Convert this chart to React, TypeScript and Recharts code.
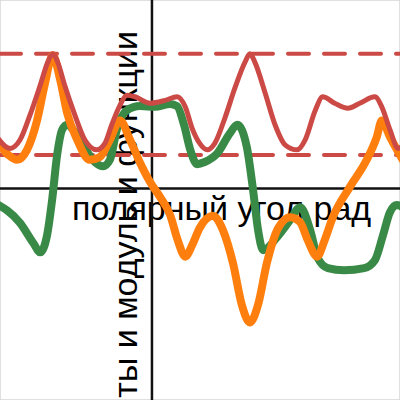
import { LineChart, Line, XAxis, YAxis, CartesianGrid, ReferenceLine } from 'recharts'

const redX = [-2.5, -2.26, -2.1, -1.94, -1.78, -1.66, -1.58, -1.5, -1.39, -1.23, -1.07, -0.88, -0.75, -0.64, -0.51, -0.4, -0.27, -0.03, 0.21, 0.4, 0.53, 0.64, 0.76, 0.88, 1.0, 1.16, 1.32, 1.48, 1.56, 1.64, 1.8, 1.96, 2.12, 2.31, 2.44, 2.6, 2.72, 2.91, 3.12, 3.31, 3.55, 3.66, 3.79, 3.92, 4.02]
const redY = [0.76, 0.56, 0.68, 1.03, 1.44, 1.76, 1.88, 1.76, 1.44, 1.03, 0.68, 0.54, 0.63, 0.89, 1.16, 1.3, 1.28, 1.19, 1.23, 1.28, 1.14, 0.84, 0.63, 0.54, 0.63, 0.98, 1.4, 1.76, 1.88, 1.76, 1.34, 0.89, 0.61, 0.54, 0.68, 1.09, 1.28, 1.19, 1.12, 1.19, 1.28, 1.14, 0.82, 0.56, 0.62]

const orangeX = [-2.5, -2.29, -2.15, -1.99, -1.83, -1.71, -1.58, -1.46, -1.35, -1.19, -0.99, -0.83, -0.67, -0.51, -0.35, -0.19, -0.03, 0.13, 0.29, 0.41, 0.53, 0.64, 0.76, 0.97, 1.13, 1.29, 1.43, 1.56, 1.69, 1.83, 2.01, 2.2, 2.36, 2.48, 2.63, 2.75, 2.88, 3.15, 3.42, 3.58, 3.66, 3.79, 4.02]
const orangeY = [0.7, 0.47, 0.4, 0.54, 0.95, 1.44, 1.86, 1.51, 1.05, 0.68, 0.4, 0.44, 0.68, 0.95, 0.68, 0.36, 0.09, -0.12, -0.37, -0.72, -0.95, -0.79, -0.55, -0.38, -0.58, -1.04, -1.62, -1.87, -1.62, -1.04, -0.55, -0.4, -0.47, -0.72, -0.95, -0.72, -0.4, 0.02, 0.4, 0.72, 0.95, 0.72, 0.36]

const greenX = [-2.5, -2.1, -1.89, -1.78, -1.67, -1.59, -1.51, -1.43, -1.35, -1.23, -1.1, -0.91, -0.78, -0.67, -0.56, -0.4, -0.19, 0.05, 0.29, 0.4, 0.51, 0.61, 0.72, 0.84, 1.04, 1.24, 1.36, 1.51, 1.61, 1.69, 1.77, 1.99, 2.2, 2.36, 2.52, 2.64, 2.8, 3.06, 3.38, 3.55, 3.68, 3.79, 3.9, 4.02]
const greenY = [-0.2, -0.48, -0.76, -0.89, -0.65, -0.16, 0.47, 0.82, 0.89, 0.79, 0.61, 0.37, 0.31, 0.4, 0.82, 1.09, 1.15, 1.14, 1.18, 1.15, 0.89, 0.54, 0.34, 0.37, 0.49, 0.77, 0.89, 0.58, -0.02, -0.58, -0.86, -0.68, -0.44, -0.26, -0.58, -0.97, -1.11, -1.14, -1.11, -1.0, -0.65, -0.33, -0.23, -0.28]

const xTicks = [-2, -1, 0, 1, 2, 3]
const yTicks = [-2, -1, 0, 1, 2]
const bandLevels = [1.88, 0.467]

const xLabel = 'полярный угол рад'
const yLabel = 'компоненты и модуль и функции'

const toPoints = (xs: number[], ys: number[]) => xs.map((x, i) => ({ x, y: ys[i] }))

const RED = '#cc4a46'
const ORANGE = '#ff7f0e'
const GREEN = '#3a8a47'
const FONT = '"Liberation Sans", Arial, sans-serif'

export default function App() {
  const red = toPoints(redX, redY)
  const orange = toPoints(orangeX, orangeY)
  const green = toPoints(greenX, greenY)

  return (
    <div style={{ position: 'absolute', left: 0, top: 0, width: 400, height: 400, background: '#fff' }}>
      <LineChart width={400} height={400} margin={{ top: 0, right: 0, bottom: 0, left: 0 }}>
        <CartesianGrid stroke="#d6d6d6" strokeWidth={1.5} />
        <XAxis
          type="number"
          dataKey="x"
          domain={[-2.42, 3.95]}
          ticks={xTicks}
          allowDataOverflow
          height={0}
          tick={false}
          tickLine={false}
          axisLine={false}
        />
        <YAxis
          type="number"
          dataKey="y"
          domain={[-2.95, 2.63]}
          ticks={yTicks}
          allowDataOverflow
          width={0}
          tick={false}
          tickLine={false}
          axisLine={false}
        />
        <text x={72} y={220} fontFamily={FONT} fontSize={34} fill="#000">
          {xLabel}
        </text>
        <text
          x={137}
          y={31}
          transform="rotate(-90 137 31)"
          textAnchor="end"
          fontFamily={FONT}
          fontSize={34}
          fill="#000"
        >
          {yLabel}
        </text>
        <ReferenceLine x={0} stroke="#111" strokeWidth={2.5} />
        <ReferenceLine y={0} stroke="#111" strokeWidth={2.5} />
        {bandLevels.map((lvl) => (
          <ReferenceLine
            key={lvl}
            y={lvl}
            stroke={RED}
            strokeWidth={4}
            strokeDasharray="21 15"
            strokeLinecap="round"
          />
        ))}
        <Line data={green} dataKey="y" type="monotone" stroke={GREEN} strokeWidth={8} dot={false} activeDot={false} isAnimationActive={false} />
        <Line data={orange} dataKey="y" type="monotone" stroke={ORANGE} strokeWidth={8} dot={false} activeDot={false} isAnimationActive={false} />
        <Line data={red} dataKey="y" type="monotone" stroke={RED} strokeWidth={5} dot={false} activeDot={false} isAnimationActive={false} />
      </LineChart>
    </div>
  )
}
